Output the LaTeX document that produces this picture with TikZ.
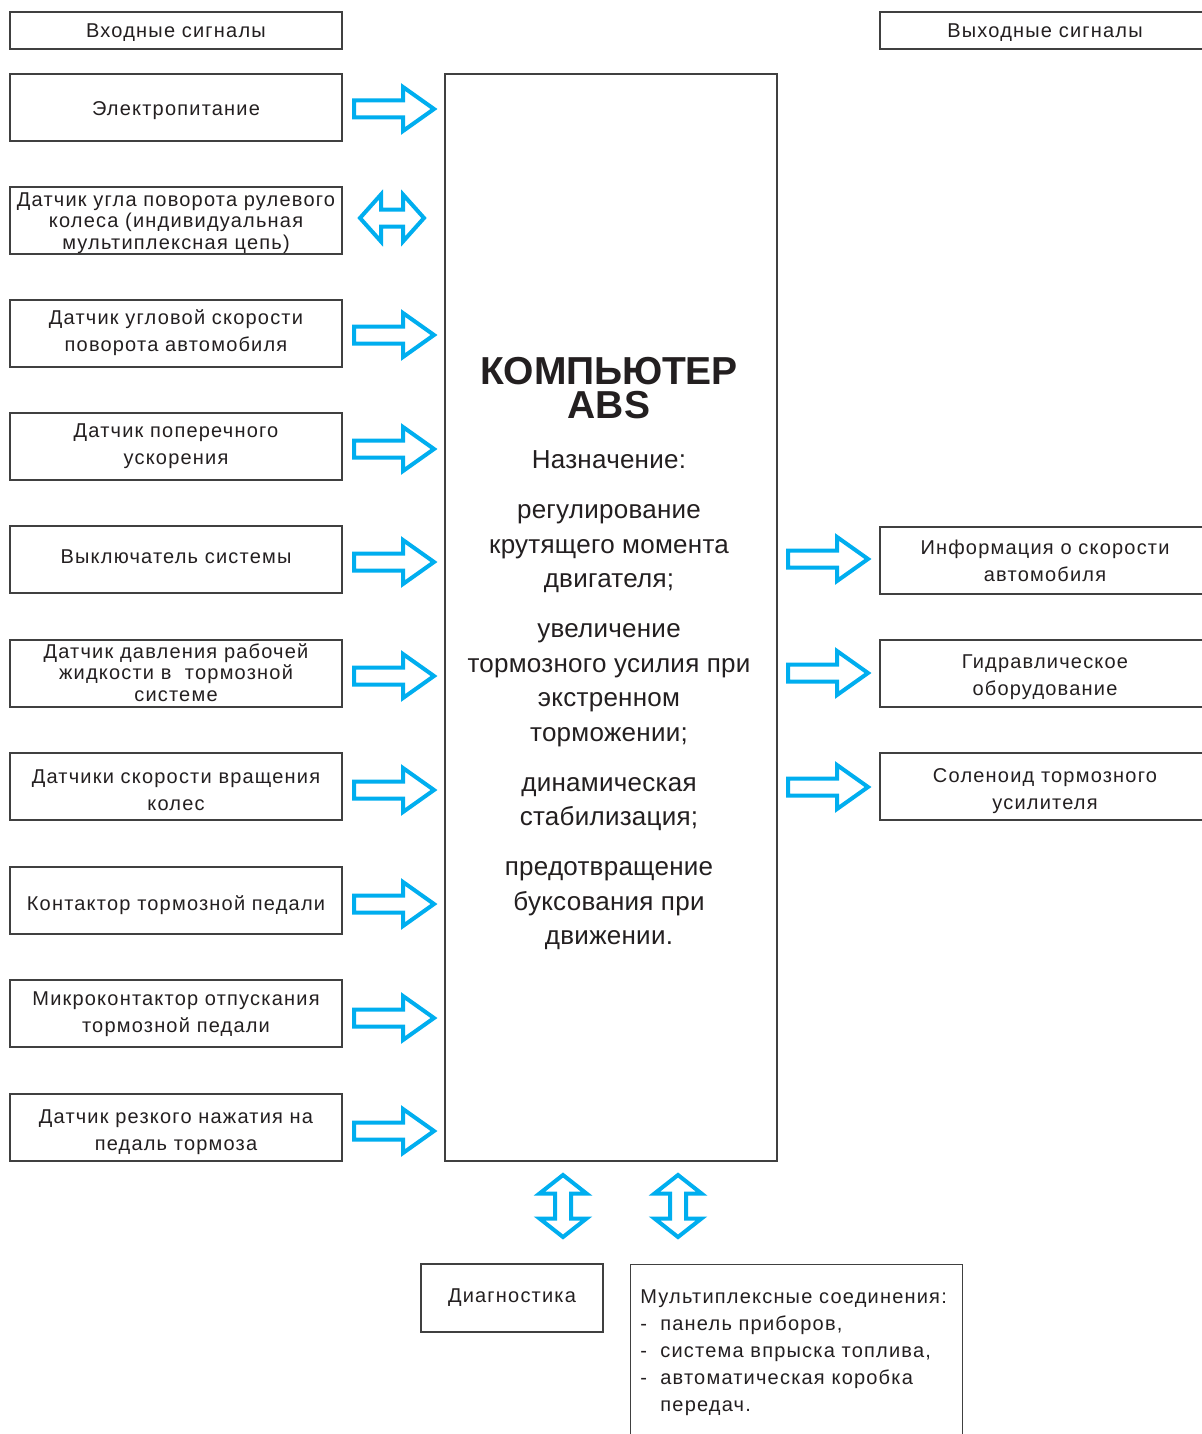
\documentclass[tikz,border=0pt]{standalone}
\usepackage{fontspec}
\setmainfont{Liberation Sans}
\newfontfamily\boxfont[LetterSpace=6]{Liberation Sans}
\newfontfamily\cpufont[LetterSpace=1]{Liberation Sans}
\definecolor{ink}{RGB}{35,31,32}
\definecolor{frame}{RGB}{64,64,64}
\definecolor{flow}{RGB}{0,174,239}

\tikzset{
  x=0.5pt, y=-0.5pt,
  box/.style={draw=frame, line width=0.55pt, minimum width=166pt,
    minimum height=33.5pt, inner sep=0pt},
  hdr/.style={box, minimum height=18.5pt},
  btxt/.style={align=center, inner sep=0pt, text=ink,
    font=\boxfont\fontsize{10}{13.5}\selectfont},
  tight/.style={font=\boxfont\fontsize{10}{10.75}\selectfont},
  cputext/.style={align=center, inner sep=0pt, text=ink,
    font=\cpufont\fontsize{13}{17.25}\selectfont},
  cputitle/.style={cputext, font=\bfseries\fontsize{19.5}{17}\selectfont},
  flowline/.style={draw=flow, line width=2pt, fill=white, line join=miter},
  % single block arrow pointing right
  arrowR/.pic={\path[flowline] (-40,-8.5) -- (9,-8.5) -- (9,-22) -- (40,0)
    -- (9,22) -- (9,8.5) -- (-40,8.5) -- cycle;},
  % double block arrow, horizontal
  arrowLR/.pic={\path[flowline] (-32,0) -- (-11,-23.5) -- (-11,-8.5)
    -- (11,-8.5) -- (11,-23.5) -- (32,0) -- (11,23.5) -- (11,8.5)
    -- (-11,8.5) -- (-11,23.5) -- cycle;},
  % double block arrow, vertical
  arrowUD/.pic={\path[flowline] (0,-31) -- (23.5,-12.5) -- (8,-12.5)
    -- (8,12.5) -- (23.5,12.5) -- (0,31) -- (-23.5,12.5) -- (-8,12.5)
    -- (-8,-12.5) -- (-23.5,-12.5) -- cycle;},
}

\begin{document}
\begin{tikzpicture}
  \useasboundingbox (0,0) rectangle (1202,1434);
  \clip (0,0) rectangle (1202,1434);
  \fill[white] (0,0) rectangle (1202,1434);

  % headers
  \node[hdr] (inhdr)  at (176,30.5)  {};
  \node[hdr] (outhdr) at (1046,30.5) {};
  \node[btxt] (inhdrt)  at (176,32.5)  {Входные сигналы};
  \node[btxt] (outhdrt) at (1045,32.5) {Выходные сигналы};

  % input signal frames
  \node[box] (in1)  at (176,107.5)  {};
  \node[box] (in2)  at (176,220.5)  {};
  \node[box] (in3)  at (176,333.5)  {};
  \node[box] (in4)  at (176,446.5)  {};
  \node[box] (in5)  at (176,559.5)  {};
  \node[box] (in6)  at (176,673.5)  {};
  \node[box] (in7)  at (176,786.5)  {};
  \node[box] (in8)  at (176,900.5)  {};
  \node[box] (in9)  at (176,1013.5) {};
  \node[box] (in10) at (176,1127.5) {};

  % input signal labels
  \node[btxt] (in1t)  at (176,110.5)  {Электропитание};
  \node[btxt,tight] (in2t) at (176,223) {Датчик угла поворота рулевого\\колеса (индивидуальная\\мультиплексная цепь)};
  \node[btxt] (in3t)  at (176,332.5)  {Датчик угловой скорости\\поворота автомобиля};
  \node[btxt] (in4t)  at (176,446.5)  {Датчик поперечного\\ускорения};
  \node[btxt] (in5t)  at (176,557)    {Выключатель системы};
  \node[btxt,tight] (in6t) at (176,672.5) {Датчик давления рабочей\\жидкости в\ \ тормозной\\системе};
  \node[btxt] (in7t)  at (176,790)    {Датчики скорости вращения\\колес};
  \node[btxt] (in8t)  at (176,905.5)  {Контактор тормозной педали};
  \node[btxt] (in9t)  at (176,1014.5) {Микроконтактор отпускания\\тормозной педали};
  \node[btxt] (in10t) at (176,1132.5) {Датчик резкого нажатия на\\педаль тормоза};

  % control unit
  \node[box, minimum height=543.5pt] (cpu) at (611,617.5) {};
  \node[cputitle] (cputitle1) at (609,371) {КОМПЬЮТЕР};
  \node[cputitle] (cputitle2) at (609,405) {ABS};
  \node[cputext] (cpuhead) at (609,460) {Назначение:};
  \node[cputext] (cpup1) at (609,549) {регулирование\\крутящего момента\\двигателя;};
  \node[cputext] (cpup2) at (609,685) {увеличение\\тормозного усилия при\\экстренном\\торможении;};
  \node[cputext] (cpup3) at (609,804) {динамическая\\стабилизация;};
  \node[cputext] (cpup4) at (609,906) {предотвращение\\буксования при\\движении.};

  % output signals
  \node[box] (out1) at (1046,560.5) {};
  \node[box] (out2) at (1046,673.5) {};
  \node[box] (out3) at (1046,786.5) {};
  \node[btxt] (out1t) at (1045,560.5) {Информация о скорости\\автомобиля};
  \node[btxt] (out2t) at (1045,677.5) {Гидравлическое\\оборудование};
  \node[btxt] (out3t) at (1045,791.5) {Соленоид тормозного\\усилителя};

  % diagnostics and multiplex links
  \node[box, minimum width=91pt, minimum height=34pt] (diag) at (512,1298) {};
  \node[btxt] (diagtext) at (512,1298) {Диагностика};
  \node[box, anchor=north west, minimum height=130pt] (mux) at (630,1264) {};
  \node[anchor=north west, align=left, inner sep=0pt, text=ink,
        font=\boxfont\fontsize{10}{13.5}\selectfont] (muxtext) at (640,1289)
    {Мультиплексные соединения:\\
     \makebox[10pt][l]{-}панель приборов,\\
     \makebox[10pt][l]{-}система впрыска топлива,\\
     \makebox[10pt][l]{-}автоматическая коробка\\
     \hspace*{10pt}передач.};

  % block arrows into the control unit
  \pic at (394,109)  {arrowR};
  \pic at (392,218)  {arrowLR};
  \pic at (394,335)  {arrowR};
  \pic at (394,449)  {arrowR};
  \pic at (394,562)  {arrowR};
  \pic at (394,676)  {arrowR};
  \pic at (394,790)  {arrowR};
  \pic at (394,904)  {arrowR};
  \pic at (394,1018) {arrowR};
  \pic at (394,1131) {arrowR};

  % block arrows out of the control unit
  \pic at (828,559) {arrowR};
  \pic at (828,673) {arrowR};
  \pic at (828,787) {arrowR};

  % links below the control unit
  \pic at (563,1206) {arrowUD};
  \pic at (678,1206) {arrowUD};
\end{tikzpicture}
\end{document}
